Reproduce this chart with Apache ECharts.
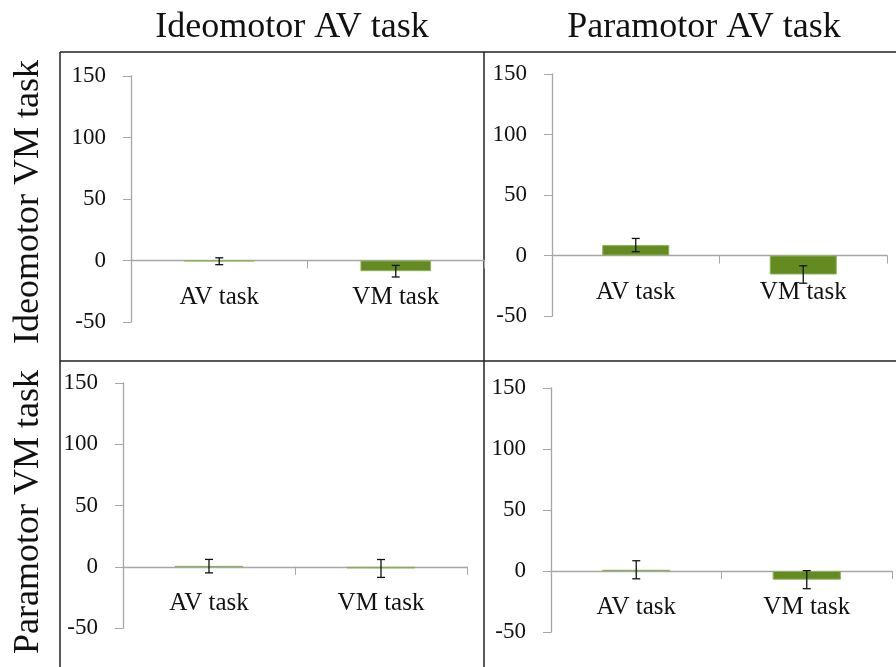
<!DOCTYPE html>
<html>
<head>
<meta charset="utf-8">
<script src="https://cdn.jsdelivr.net/npm/echarts@6/dist/echarts.min.js"></script>
<style>
  html, body { margin: 0; padding: 0; background: #fff; }
  #main { width: 896px; height: 667px; }
</style>
</head>
<body>
<div id="main"></div>
<script>
var categories = ['AV task', 'VM task'];
var yTicks = [-50, 0, 50, 100, 150];

// panel order: top-left, top-right, bottom-left, bottom-right
var meansIdeoIdeo = [-0.6, -8.7];
var errIdeoIdeo = [2.8, 4.7];
var meansParaIdeo = [8.6, -15.7];
var errParaIdeo = [5.5, 7.2];
var meansIdeoPara = [0.5, -1.4];
var errIdeoPara = [5.5, 7.3];
var meansParaPara = [1.0, -7.1];
var errParaPara = [7.4, 7.4];

var colTitles = ['Ideomotor AV task', 'Paramotor AV task'];
var rowTitles = ['Ideomotor VM task', 'Paramotor VM task'];

var panels = [
    { means: meansIdeoIdeo, errs: errIdeoIdeo, grid: { left: 131, right: 412, top: 76, height: 246 } },
    { means: meansParaIdeo, errs: errParaIdeo, grid: { left: 552, right: 9, top: 74, height: 242 } },
    { means: meansIdeoPara, errs: errIdeoPara, grid: { left: 123, right: 429, top: 383, height: 245 } },
    { means: meansParaPara, errs: errParaPara, grid: { left: 551, right: 4, top: 388, height: 244 } }
];

var font = 'Liberation Serif';
var axisGray = '#a6a6a6';
var barGreen = '#648b1f';
var yMin = yTicks[0], yMax = yTicks[yTicks.length - 1];

var grids = [], xAxes = [], yAxes = [], series = [];

panels.forEach(function (p, i) {
    grids.push(p.grid);
    // x axis sits on the zero line: shift it up from the grid bottom
    var zeroShift = p.grid.height * (0 - yMin) / (yMax - yMin);
    xAxes.push({
        type: 'category',
        gridIndex: i,
        data: categories,
        offset: -zeroShift,
        axisLine: { onZero: false, lineStyle: { color: axisGray, width: 1.3 } },
        axisTick: { show: true, length: 8, lineStyle: { color: axisGray } },
        axisLabel: { color: '#111', fontFamily: font, fontSize: 25, margin: 24 }
    });
    yAxes.push({
        type: 'value',
        gridIndex: i,
        min: yMin,
        max: yMax,
        interval: 50,
        splitLine: { show: false },
        axisLine: { show: true, lineStyle: { color: axisGray, width: 1.3 } },
        axisTick: { show: true, length: 8, lineStyle: { color: axisGray } },
        axisLabel: { color: '#111', fontFamily: font, fontSize: 23, margin: 25 }
    });
    series.push({
        type: 'bar',
        xAxisIndex: i,
        yAxisIndex: i,
        barWidth: '40%',
        data: p.means,
        itemStyle: { color: barGreen, borderColor: '#8db05c', borderWidth: 1 },
        z: 2
    });
    series.push({
        type: 'custom',
        xAxisIndex: i,
        yAxisIndex: i,
        data: p.means.map(function (m, k) { return [k, m - p.errs[k], m + p.errs[k]]; }),
        renderItem: function (params, api) {
            var lo = api.coord([api.value(0), api.value(1)]);
            var hi = api.coord([api.value(0), api.value(2)]);
            var cap = 4;
            var st = { stroke: '#111', lineWidth: 1.3 };
            return {
                type: 'group',
                children: [
                    { type: 'line', shape: { x1: lo[0], y1: lo[1], x2: hi[0], y2: hi[1] }, style: st },
                    { type: 'line', shape: { x1: lo[0] - cap, y1: lo[1], x2: lo[0] + cap, y2: lo[1] }, style: st },
                    { type: 'line', shape: { x1: hi[0] - cap, y1: hi[1], x2: hi[0] + cap, y2: hi[1] }, style: st }
                ]
            };
        },
        z: 5
    });
});

var border = { stroke: '#222', lineWidth: 1.5 };
var titleFont = '36px "' + font + '"';
var graphics = [
    { type: 'line', shape: { x1: 60, y1: 52, x2: 896, y2: 52 }, style: border },
    { type: 'line', shape: { x1: 60, y1: 361, x2: 896, y2: 361 }, style: border },
    { type: 'line', shape: { x1: 60, y1: 52, x2: 60, y2: 667 }, style: border },
    { type: 'line', shape: { x1: 484, y1: 52, x2: 484, y2: 667 }, style: border },
    { type: 'text', x: 292, y: 28, style: { text: colTitles[0], font: titleFont, fill: '#111', textAlign: 'center', textVerticalAlign: 'middle' } },
    { type: 'text', x: 704, y: 28, style: { text: colTitles[1], font: titleFont, fill: '#111', textAlign: 'center', textVerticalAlign: 'middle' } },
    { type: 'text', x: 29, y: 202, rotation: Math.PI / 2, style: { text: rowTitles[0], font: titleFont, fill: '#111', textAlign: 'center', textVerticalAlign: 'middle' } },
    { type: 'text', x: 29, y: 512, rotation: Math.PI / 2, style: { text: rowTitles[1], font: titleFont, fill: '#111', textAlign: 'center', textVerticalAlign: 'middle' } }
];

var chart = echarts.init(document.getElementById('main'));
chart.setOption({
    animation: false,
    backgroundColor: '#fff',
    grid: grids,
    xAxis: xAxes,
    yAxis: yAxes,
    series: series,
    graphic: graphics
});
</script>
</body>
</html>
